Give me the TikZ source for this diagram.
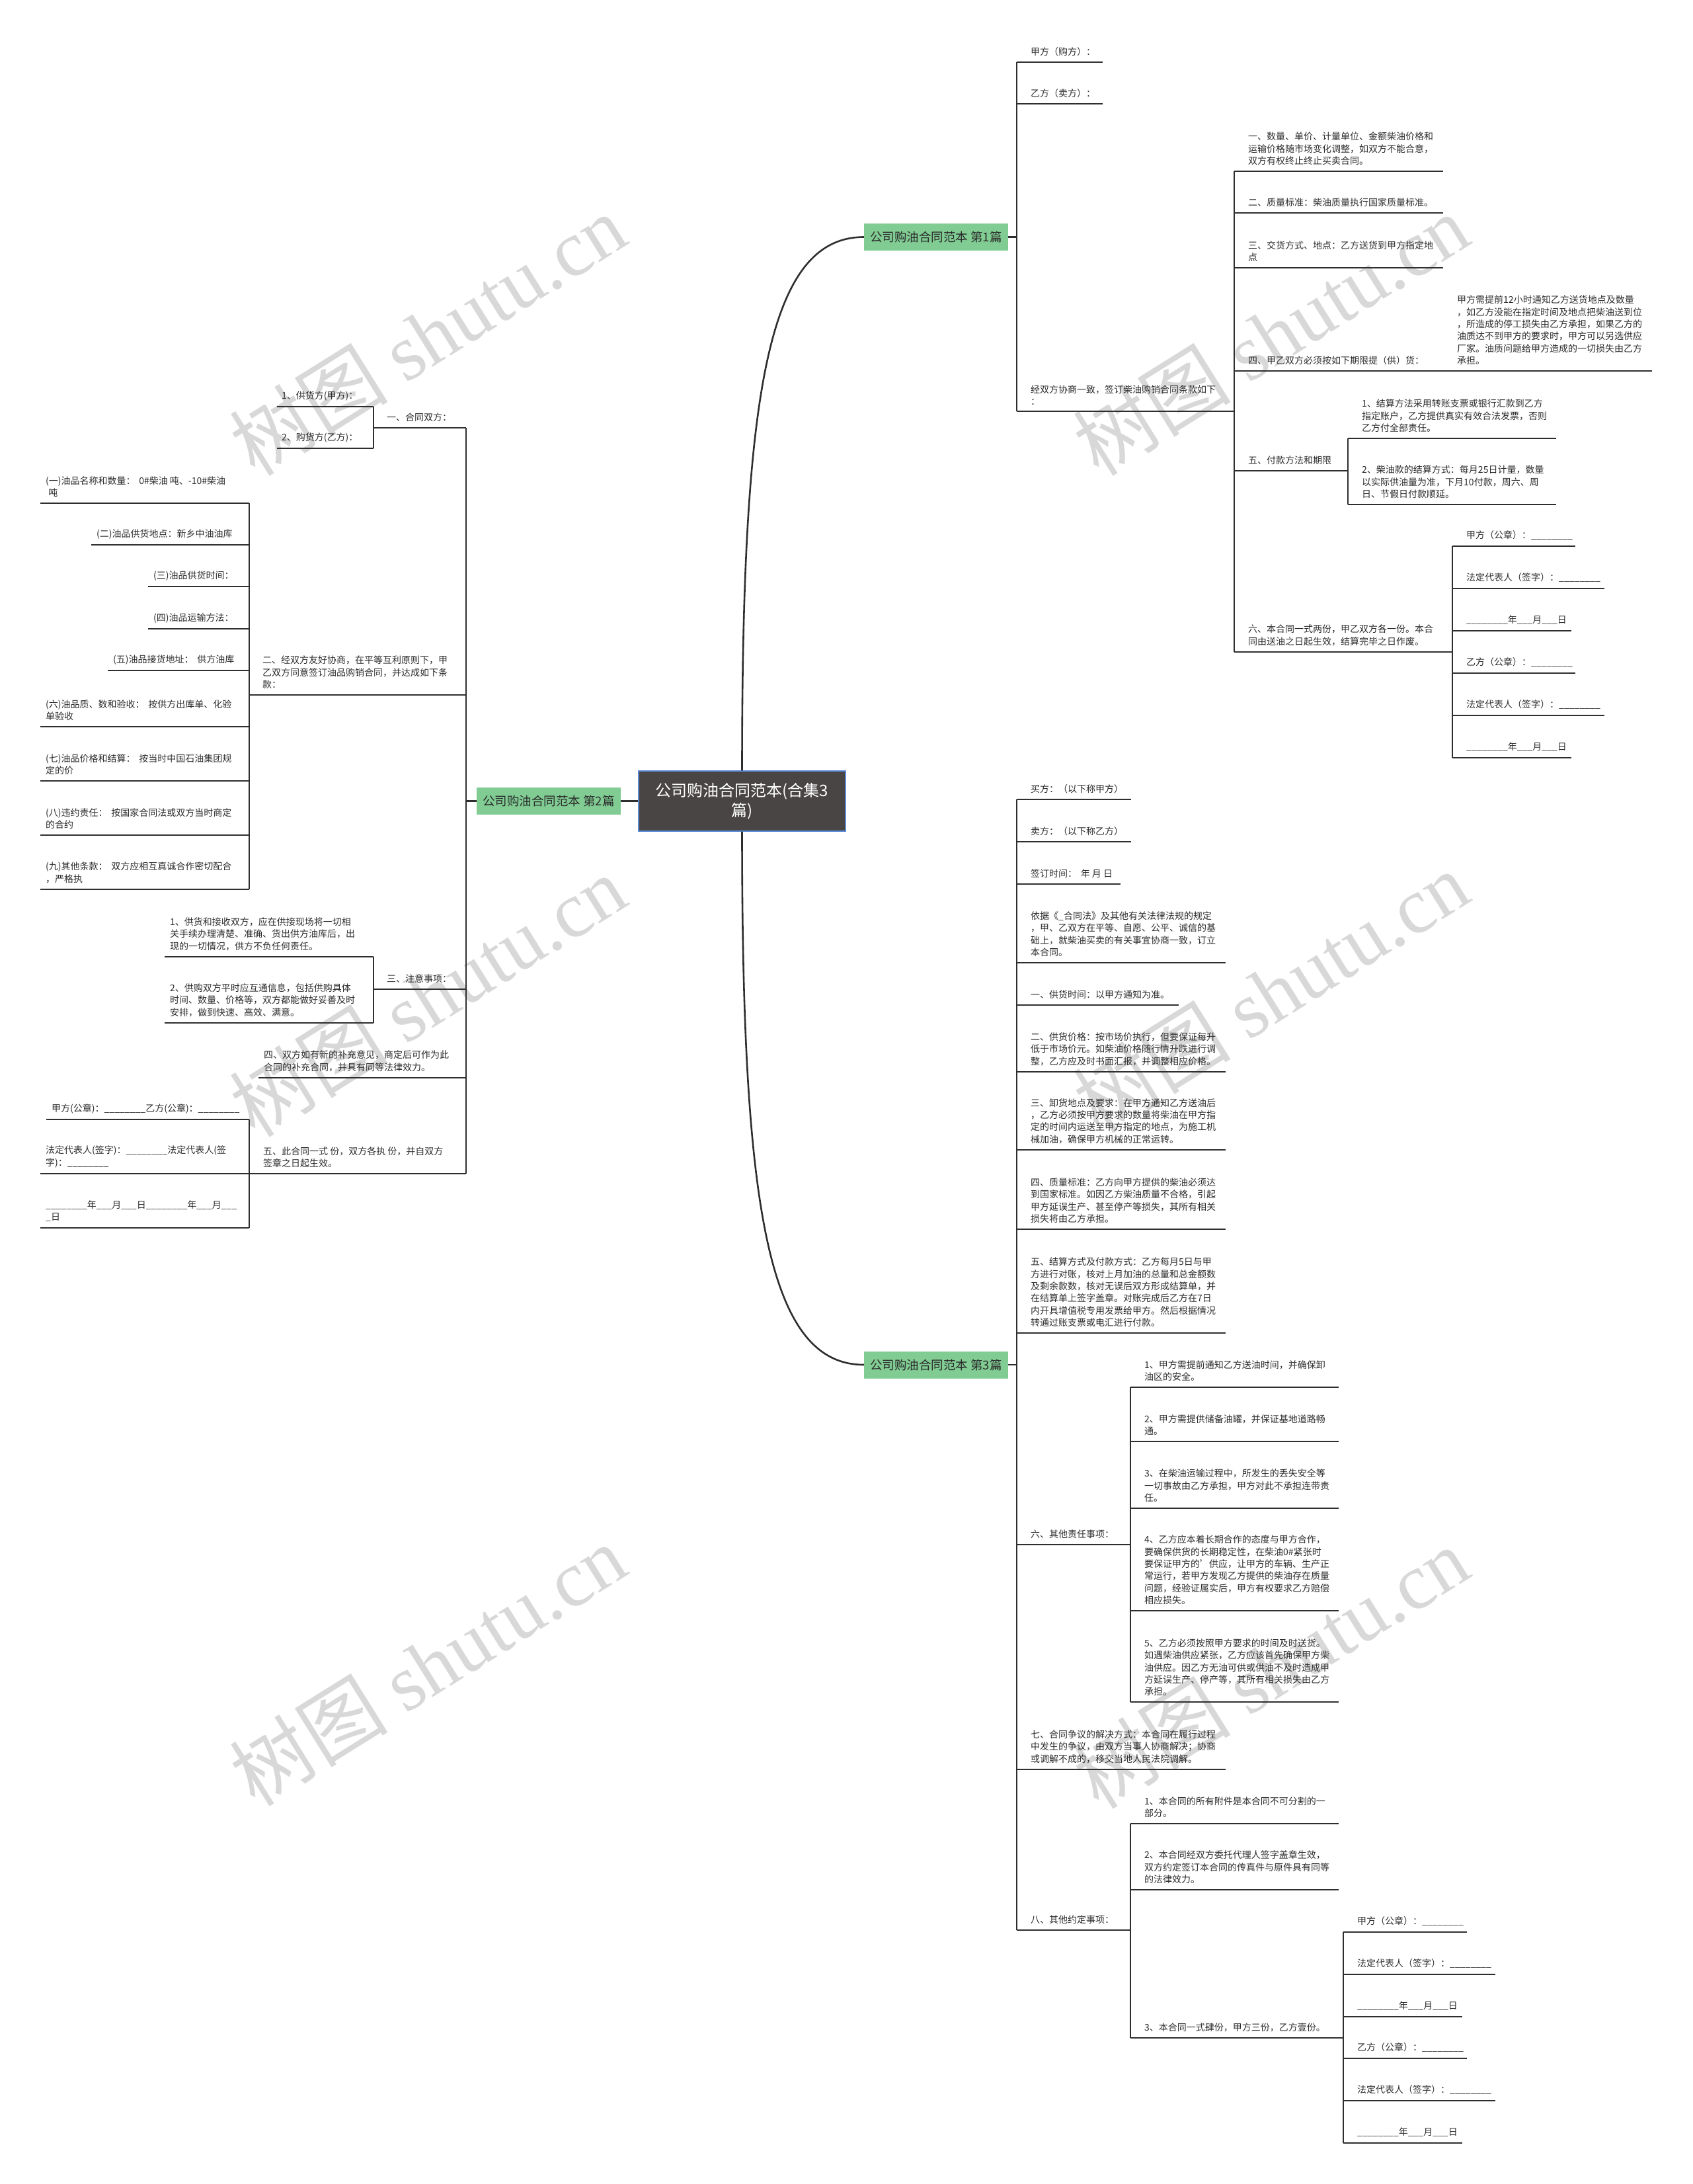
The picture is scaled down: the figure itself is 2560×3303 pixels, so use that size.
\documentclass[tikz,border=0pt]{standalone}
\usepackage{fontspec}
\setmainfont{Noto Sans CJK SC}
\newfontfamily\wmlatin{Liberation Serif}
\definecolor{linec}{HTML}{2E2E2E}
\definecolor{txtc}{HTML}{2B2B2B}
\definecolor{greenc}{HTML}{80CC93}
\definecolor{rootfill}{HTML}{4A4545}
\definecolor{rootdraw}{HTML}{5A8AD6}
\definecolor{wmc}{HTML}{D8D8D8}
\newcommand\rnode[5]{%
  \coordinate (#1l) at (#2,#4);
  \coordinate (#1r) at (#3,#4);
  \node[txt] (#1) at (#2+21,#4) {#5};
  \draw[uline] (#1l) -- (#1r);}
\newcommand\lnode[6]{%
  \coordinate (#1l) at (#2,#4);
  \coordinate (#1r) at (#3,#4);
  \node[txt] (#1) at (#5,#4) {#6};
  \draw[uline] (#1l) -- (#1r);}
\newcommand\us[1]{\foreach \i in {1,...,#1}{\_}}
\begin{document}
\begin{tikzpicture}[x=1pt,y=-1pt,
  txt/.style={anchor=south west,inner xsep=0pt,inner ysep=9pt,align=left,font=\fontsize{14}{18.4}\selectfont,text=txtc},
  uline/.style={line width=2.6pt,draw=linec},
  conn/.style={line width=2.2pt,draw=linec},
  branch/.style={fill=greenc,draw=none,minimum width=218pt,minimum height=41pt,inner sep=0pt,font=\fontsize{18.5}{22}\selectfont,text=txtc},
  root/.style={fill=rootfill,draw=rootdraw,line width=1.2pt,minimum width=313pt,minimum height=91pt,inner sep=0pt,align=center,font=\fontsize{24}{30}\selectfont,text=white},
  wm/.style={rotate=32,text=wmc,font=\fontsize{120}{120}\selectfont}]
\useasboundingbox (0,0) rectangle (2560,3303);
% watermarks
\node[wm] (wm1) at (647,506) {树图 {\wmlatin shutu.cn}};
\node[wm] (wm2) at (1922,506) {树图 {\wmlatin shutu.cn}};
\node[wm] (wm3) at (647,1506) {树图 {\wmlatin shutu.cn}};
\node[wm] (wm4) at (1922,1500) {树图 {\wmlatin shutu.cn}};
\node[wm] (wm5) at (647,2518) {树图 {\wmlatin shutu.cn}};
\node[wm] (wm6) at (1922,2522) {树图 {\wmlatin shutu.cn}};
% root and branches
\node[root] (C) at (1122.5,1211.5) {公司购油合同范本(合集3\\篇)};
\node[branch] (B1) at (1416,358.5) {公司购油合同范本 第1篇};
\node[branch] (B2) at (830,1211.5) {公司购油合同范本 第2篇};
\node[branch] (B3) at (1416,2064) {公司购油合同范本 第3篇};
\draw[conn,line width=2.6pt] (C.north) .. controls (1122.5,600) and (1160,358.5) .. (B1.west);
\draw[conn,line width=2.6pt] (C.south) .. controls (1122.5,1820) and (1160,2064) .. (B3.west);
\draw[conn] (C.west) -- (B2.east);
% ---------------- branch 1
\rnode{a1}{1538}{1668}{94}{甲方（购方）：}
\rnode{a2}{1538}{1668}{157}{乙方（卖方）：}
\rnode{a3}{1538}{1867}{622}{经双方协商一致，签订柴油购销合同条款如下\\：}
\rnode{b1}{1867}{2183}{259}{一、数量、单价、计量单位、金额柴油价格和\\运输价格随市场变化调整，如双方不能合意，\\双方有权终止终止买卖合同。}
\rnode{b2}{1867}{2183}{322}{二、质量标准：柴油质量执行国家质量标准。}
\rnode{b3}{1867}{2183}{405}{三、交货方式、地点：乙方送货到甲方指定地\\点}
\rnode{b4}{1867}{2183}{561}{四、甲乙双方必须按如下期限提（供）货：}
\rnode{b41}{2183}{2499}{561}{甲方需提前12小时通知乙方送货地点及数量\\，如乙方没能在指定时间及地点把柴油送到位\\，所造成的停工损失由乙方承担，如果乙方的\\油质达不到甲方的要求时，甲方可以另选供应\\厂家。油质问题给甲方造成的一切损失由乙方\\承担。}
\rnode{b5}{1867}{2039}{712}{五、付款方法和期限}
\rnode{b51}{2039}{2354}{663}{1、结算方法采用转账支票或银行汇款到乙方\\指定账户，乙方提供真实有效合法发票，否则\\乙方付全部责任。}
\rnode{b52}{2039}{2354}{763}{2、柴油款的结算方式：每月25日计量，数量\\以实际供油量为准，下月10付款，周六、周\\日、节假日付款顺延。}
\rnode{b6}{1867}{2197}{986}{六、本合同一式两份，甲乙双方各一份。本合\\同由送油之日起生效，结算完毕之日作废。}
\rnode{b61}{2197}{2383}{826}{甲方（公章）：\us{8}}
\rnode{b62}{2197}{2427}{890}{法定代表人（签字）：\us{8}}
\rnode{b63}{2197}{2377}{954}{\us{8}年\us{3}月\us{3}日}
\rnode{b64}{2197}{2383}{1018}{乙方（公章）：\us{8}}
\rnode{b65}{2197}{2427}{1082}{法定代表人（签字）：\us{8}}
\rnode{b66}{2197}{2377}{1146}{\us{8}年\us{3}月\us{3}日}
\foreach \n in {a1,a2,a3} \draw[conn] (B1.east) -| (\n l);
\foreach \n in {b1,b2,b3,b4,b5,b6} \draw[conn] (a3r) -- (\n l);
\draw[conn] (b4r) -- (b41l);
\foreach \n in {b51,b52} \draw[conn] (b5r) -- (\n l);
\foreach \n in {b61,b62,b63,b64,b65,b66} \draw[conn] (b6r) -- (\n l);
% ---------------- branch 2 (left)
\lnode{d1}{565}{705}{647}{585}{一、合同双方：}
\lnode{d11}{419}{565}{615}{426}{1、供货方(甲方)：}
\lnode{d12}{419}{565}{678}{426}{2、购货方(乙方)：}
\lnode{d2}{377}{705}{1051}{397}{二、经双方友好协商，在平等互利原则下，甲\\乙双方同意签订油品购销合同，并达成如下条\\款：}
\lnode{d21}{61}{377}{761}{69}{(一)油品名称和数量：\hspace{0.4em}0\#柴油 吨、-10\#柴油\\\hspace{0.3em}吨}
\lnode{d22}{138}{377}{824}{146}{(二)油品供货地点：新乡中油油库}
\lnode{d23}{224}{377}{887}{232}{(三)油品供货时间：}
\lnode{d24}{224}{377}{951}{232}{(四)油品运输方法：}
\lnode{d25}{163}{377}{1014}{171}{(五)油品接货地址：\hspace{0.4em}供方油库}
\lnode{d26}{61}{377}{1099}{69}{(六)油品质、数和验收：\hspace{0.4em}按供方出库单、化验\\单验收}
\lnode{d27}{61}{377}{1181}{69}{(七)油品价格和结算：\hspace{0.4em}按当时中国石油集团规\\定的价}
\lnode{d28}{61}{377}{1263}{69}{(八)违约责任：\hspace{0.4em}按国家合同法或双方当时商定\\的合约}
\lnode{d29}{61}{377}{1345}{69}{(九)其他条款：\hspace{0.4em}双方应相互真诚合作密切配合\\，严格执}
\lnode{d3}{565}{705}{1496}{585}{三、注意事项：}
\lnode{d31}{249}{565}{1447}{257}{1、供货和接收双方，应在供接现场将一切相\\关手续办理清楚、准确、货出供方油库后，出\\现的一切情况，供方不负任何责任。}
\lnode{d32}{249}{565}{1547}{257}{2、供购双方平时应互通信息，包括供购具体\\时间、数量、价格等，双方都能做好妥善及时\\安排，做到快速、高效、满意。}
\lnode{d4}{391}{705}{1630}{399}{四、双方如有新的补充意见，商定后可作为此\\合同的补充合同，并具有同等法律效力。}
\lnode{d5}{377}{705}{1775}{398}{五、此合同一式 份，双方各执 份，并自双方\\签章之日起生效。}
\lnode{d51}{70}{377}{1693}{78}{甲方(公章)：\us{8}乙方(公章)：\us{8}}
\lnode{d52}{61}{377}{1775}{69}{法定代表人(签字)：\us{8}法定代表人(签\\字)：\us{8}}
\lnode{d53}{61}{377}{1857}{69}{\us{8}年\us{3}月\us{3}日\us{8}年\us{3}月\us{3}\\\_日}
\foreach \n in {d1,d2,d3,d4,d5} \draw[conn] (B2.west) -| (\n r);
\foreach \n in {d11,d12} \draw[conn] (d1l) -- (\n r);
\foreach \n in {d21,d22,d23,d24,d25,d26,d27,d28,d29} \draw[conn] (d2l) -- (\n r);
\foreach \n in {d31,d32} \draw[conn] (d3l) -- (\n r);
\foreach \n in {d51,d52,d53} \draw[conn] (d5l) -- (\n r);
% ---------------- branch 3
\rnode{c1}{1538}{1711}{1209}{买方：（以下称甲方）}
\rnode{c2}{1538}{1711}{1273}{卖方：（以下称乙方）}
\rnode{c3}{1538}{1695}{1337}{签订时间：\hspace{0.4em}年 月 日}
\rnode{c4}{1538}{1854}{1456}{依据《\_合同法》及其他有关法律法规的规定\\，甲、乙双方在平等、自愿、公平、诚信的基\\础上，就柴油买卖的有关事宜协商一致，订立\\本合同。}
\rnode{c5}{1538}{1783}{1520}{一、供货时间：以甲方通知为准。}
\rnode{c6}{1538}{1854}{1621}{二、供货价格：按市场价执行，但要保证每升\\低于市场价元。如柴油价格随行情升跌进行调\\整，乙方应及时书面汇报，并调整相应价格。}
\rnode{c7}{1538}{1854}{1739}{三、卸货地点及要求：在甲方通知乙方送油后\\，乙方必须按甲方要求的数量将柴油在甲方指\\定的时间内运送至甲方指定的地点，为施工机\\械加油，确保甲方机械的正常运转。}
\rnode{c8}{1538}{1854}{1859}{四、质量标准：乙方向甲方提供的柴油必须达\\到国家标准。如因乙方柴油质量不合格，引起\\甲方延误生产、甚至停产等损失，其所有相关\\损失将由乙方承担。}
\rnode{c9}{1538}{1854}{2016}{五、结算方式及付款方式：乙方每月5日与甲\\方进行对账，核对上月加油的总量和总金额数\\及剩余款数，核对无误后双方形成结算单，并\\在结算单上签字盖章。对账完成后乙方在7日\\内开具增值税专用发票给甲方。然后根据情况\\转通过账支票或电汇进行付款。}
\rnode{c10}{1538}{1710}{2336}{六、其他责任事项：}
\rnode{c101}{1710}{2025}{2098}{1、甲方需提前通知乙方送油时间，并确保卸\\油区的安全。}
\rnode{c102}{1710}{2025}{2180}{2、甲方需提供储备油罐，并保证基地道路畅\\通。}
\rnode{c103}{1710}{2025}{2281}{3、在柴油运输过程中，所发生的丢失安全等\\一切事故由乙方承担，甲方对此不承担连带责\\任。}
\rnode{c104}{1710}{2025}{2436}{4、乙方应本着长期合作的态度与甲方合作，\\要确保供货的长期稳定性，在柴油0\#紧张时\\要保证甲方的'供应，让甲方的车辆、生产正\\常运行，若甲方发现乙方提供的柴油存在质量\\问题，经验证属实后，甲方有权要求乙方赔偿\\相应损失。}
\rnode{c105}{1710}{2025}{2574}{5、乙方必须按照甲方要求的时间及时送货。\\如遇柴油供应紧张，乙方应该首先确保甲方柴\\油供应。因乙方无油可供或供油不及时造成甲\\方延误生产、停产等，其所有相关损失由乙方\\承担。}
\rnode{c11}{1538}{1854}{2676}{七、合同争议的解决方式：本合同在履行过程\\中发生的争议，由双方当事人协商解决；协商\\或调解不成的，移交当地人民法院调解。}
\rnode{c12}{1538}{1710}{2919}{八、其他约定事项：}
\rnode{c121}{1710}{2025}{2758}{1、本合同的所有附件是本合同不可分割的一\\部分。}
\rnode{c122}{1710}{2025}{2858}{2、本合同经双方委托代理人签字盖章生效，\\双方约定签订本合同的传真件与原件具有同等\\的法律效力。}
\rnode{c123}{1710}{2032}{3082}{3、本合同一式肆份，甲方三份，乙方壹份。}
\rnode{c1231}{2032}{2219}{2922}{甲方（公章）：\us{8}}
\rnode{c1232}{2032}{2262}{2986}{法定代表人（签字）：\us{8}}
\rnode{c1233}{2032}{2212}{3050}{\us{8}年\us{3}月\us{3}日}
\rnode{c1234}{2032}{2219}{3113}{乙方（公章）：\us{8}}
\rnode{c1235}{2032}{2262}{3177}{法定代表人（签字）：\us{8}}
\rnode{c1236}{2032}{2212}{3241}{\us{8}年\us{3}月\us{3}日}
\foreach \n in {c1,c2,c3,c4,c5,c6,c7,c8,c9,c10,c11,c12} \draw[conn] (B3.east) -| (\n l);
\foreach \n in {c101,c102,c103,c104,c105} \draw[conn] (c10r) -- (\n l);
\foreach \n in {c121,c122,c123} \draw[conn] (c12r) -- (\n l);
\foreach \n in {c1231,c1232,c1233,c1234,c1235,c1236} \draw[conn] (c123r) -- (\n l);
\end{tikzpicture}
\end{document}
